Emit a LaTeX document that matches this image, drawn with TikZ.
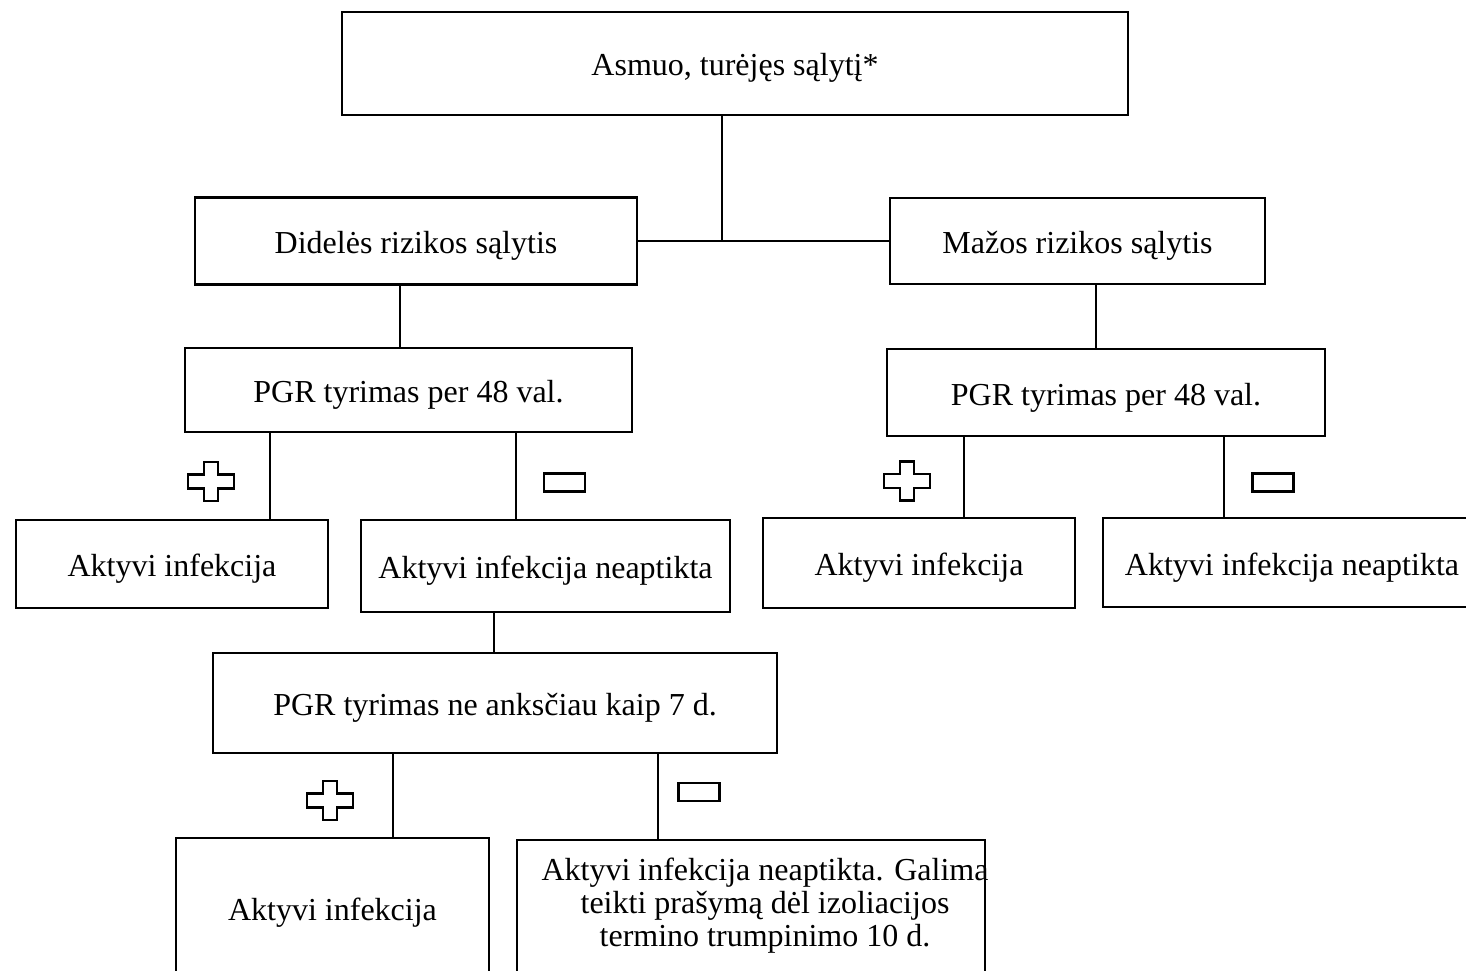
\documentclass[tikz,border=0pt]{standalone}
\usepackage{fontspec}
\setmainfont{Liberation Serif}

\begin{document}
\begin{tikzpicture}[x=1pt, y=-1pt, line width=2.2pt,
                    box/.style={rectangle,draw,inner sep=0pt,text height=25pt,text depth=0pt,
                                font=\fontsize{32}{33}\selectfont},
                    txt/.style={align=center,inner sep=0pt,font=\fontsize{32}{33}\selectfont},
                    sign/.style={line width=2.2pt}]

  \useasboundingbox (0,0) rectangle (1466,971);
  \clip (0,0) rectangle (1466,971);

  \node[box, minimum width=786, minimum height=103] (asmuo) at (735,63.5) {Asmuo, turėjęs sąlytį*};
  \node[box, minimum width=442, minimum height=87] (didele) at (416,241) {Didelės rizikos sąlytis};
  \node[box, minimum width=375, minimum height=86] (maza) at (1077.5,241) {Mažos rizikos sąlytis};
  \node[box, minimum width=447, minimum height=84] (pgrL) at (408.5,390) {PGR tyrimas per 48 val.};
  \node[box, minimum width=438, minimum height=87] (pgrR) at (1106,392.5) {PGR tyrimas per 48 val.};
  \node[box, minimum width=312, minimum height=88] (infLL) at (172,564) {Aktyvi infekcija};
  \node[box, minimum width=369, minimum height=92] (neaptL) at (545.5,566) {Aktyvi infekcija neaptikta};
  \node[box, minimum width=312, minimum height=90] (infRL) at (919,563) {Aktyvi infekcija};
  \node[box, minimum width=378, minimum height=89] (neaptR) at (1292,562.5) {Aktyvi infekcija neaptikta};
  \node[box, minimum width=564, minimum height=100] (pgr7) at (495,703) {PGR tyrimas ne anksčiau kaip 7 d.};
  \node[box, minimum width=313, minimum height=140] (infB) at (332.5,908) {Aktyvi infekcija};
  \node[box, minimum width=468, minimum height=140] (noteB) at (751,910) {};
  \node[txt] (noteBtext) at (765,906) {Aktyvi infekcija neaptikta. Galima\\
    teikti prašymą dėl izoliacijos\\ termino trumpinimo 10 d.};

  \path
    (asmuo.south -| 722,0) edge (didele.east -| 722,0)
    (didele) edge (maza)
    (didele.south -| 400,0) edge (pgrL.north -| 400,0)
    (maza.south -| 1096,0) edge (pgrR.north -| 1096,0)
    (pgrL.south -| 270,0) edge (infLL.north -| 270,0)
    (pgrL.south -| 516,0) edge (neaptL.north -| 516,0)
    (pgrR.south -| 964,0) edge (infRL.north -| 964,0)
    (pgrR.south -| 1224,0) edge (neaptR.north -| 1224,0)
    (neaptL.south -| 494,0) edge (pgr7.north -| 494,0)
    (pgr7.south -| 393,0) edge (infB.north -| 393,0)
    (pgr7.south -| 658,0) edge (noteB.north -| 658,0)
;

  % plus and minus marks
  \foreach \cx/\cy in {211/481.5, 907/481, 330/800.5}
    \draw[sign] (\cx,\cy) ++(-7,-19.5) -- ++(14,0) -- ++(0,12.5) -- ++(16,0) -- ++(0,14)
      -- ++(-16,0) -- ++(0,12.5) -- ++(-14,0) -- ++(0,-12.5) -- ++(-16,0) -- ++(0,-14) -- ++(16,0) -- cycle;
  \foreach \cx/\cy in {564.5/482.5, 1273/482.5, 699/792}
    \draw[sign] (\cx,\cy) +(-20.5,-9) rectangle +(20.5,9);
\end{tikzpicture}
\end{document}
